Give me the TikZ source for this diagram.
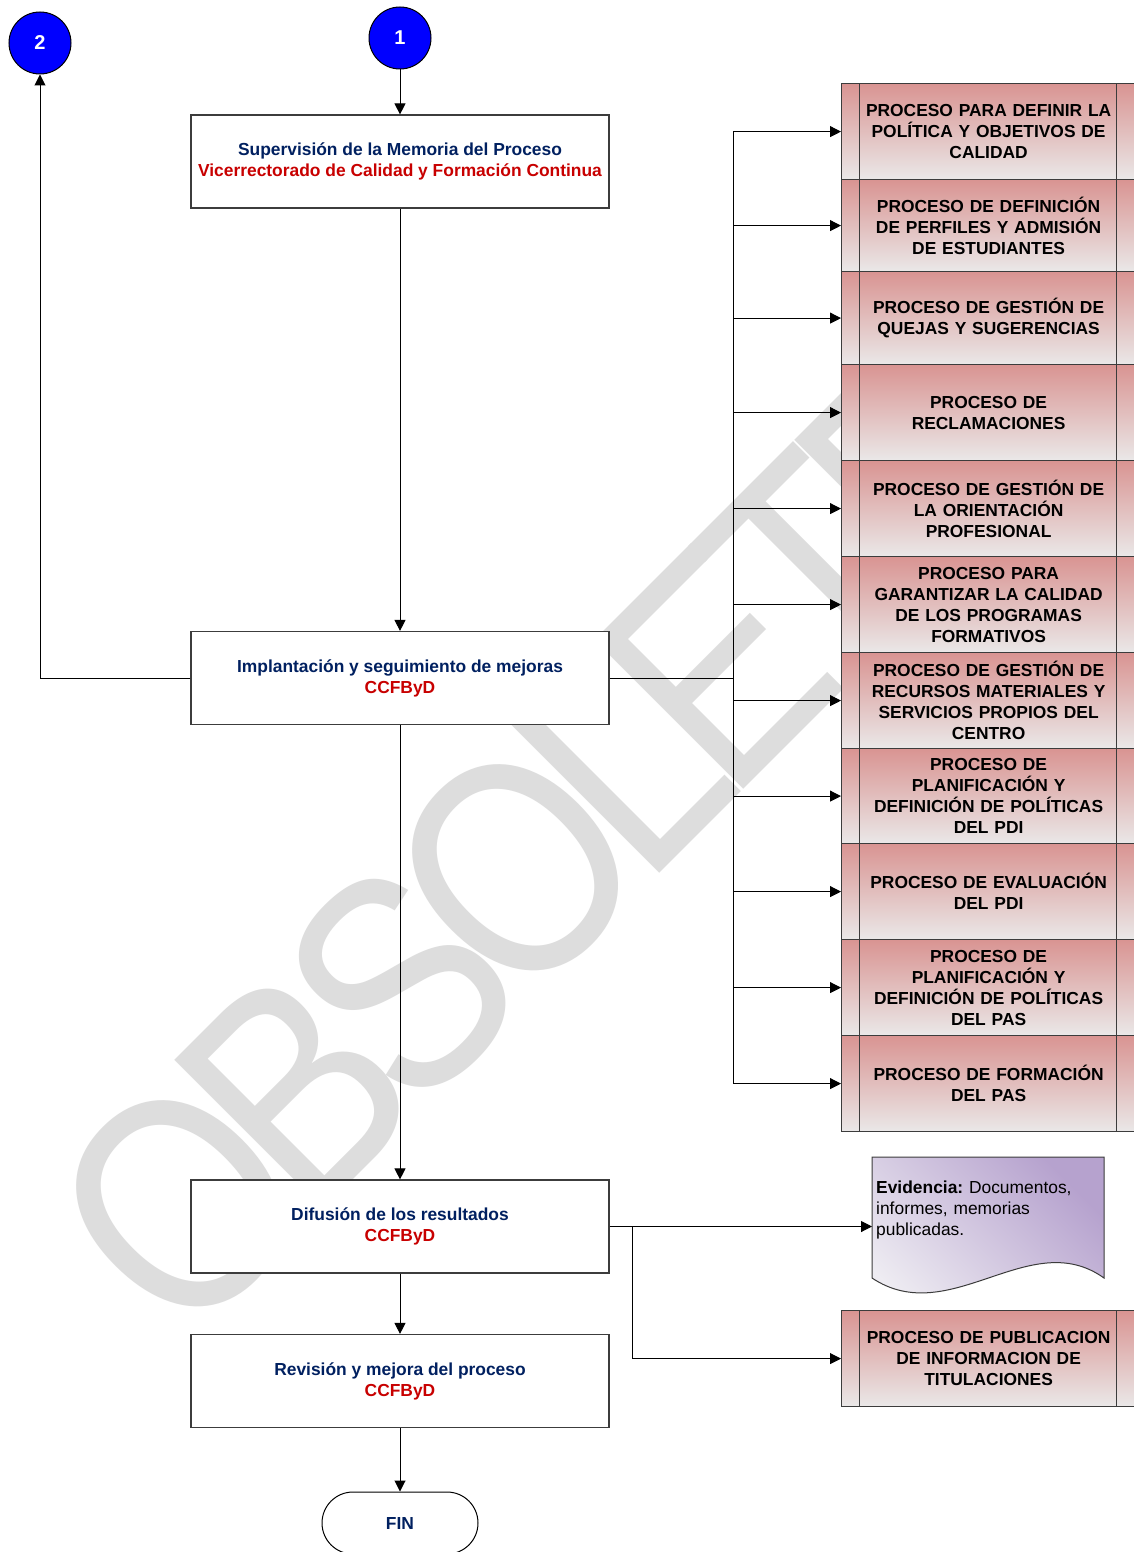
\documentclass[tikz,border=0pt]{standalone}
\usepackage{fontspec}
\setmainfont{Liberation Sans}
\usetikzlibrary{arrows.meta,calc}
\definecolor{navy}{RGB}{0,32,96}
\definecolor{dred}{RGB}{200,0,0}
\definecolor{wm}{RGB}{221,221,221}
\definecolor{ptop}{RGB}{217,148,146}
\definecolor{pbot}{RGB}{234,232,232}
\definecolor{bord}{RGB}{60,60,60}
\definecolor{evtop}{RGB}{182,162,206}
\definecolor{evbot}{RGB}{238,236,242}
\definecolor{cblue}{RGB}{0,0,255}
\frenchspacing
\begin{document}
\begin{tikzpicture}[x=1pt,y=-1pt,
  conn/.style={line width=1pt, black},
  arr/.style={conn, -{Triangle[length=11pt,width=11pt]}},
  txt/.style={font=\fontsize{17.4}{21}\selectfont\bfseries},
  mainbox/.style={txt, draw=bord, line width=1.2pt, fill=white, minimum width=418pt, minimum height=93pt, align=center},
  procbox/.style={txt, draw=bord, line width=1.2pt, top color=ptop, bottom color=pbot,
    minimum width=294pt, anchor=north west, align=center, text width=250pt,
    path picture={
      \draw[bord, line width=1pt] ([xshift=18pt]path picture bounding box.north west) -- ([xshift=18pt]path picture bounding box.south west);
      \draw[bord, line width=1pt] ([xshift=275pt]path picture bounding box.north west) -- ([xshift=275pt]path picture bounding box.south west);
    }},
  connector/.style={circle, draw=black, line width=1pt, fill=cblue, minimum size=62pt, inner sep=0pt, text=white, font=\fontsize{20}{20}\selectfont\bfseries},
  terminal/.style={txt, draw=black, line width=1pt, fill=white, rounded corners=31pt, minimum width=156pt, minimum height=62pt, text=navy},
  watermark/.style={text=wm, font=\fontsize{232}{232}\selectfont, inner sep=0pt}
]
\useasboundingbox (0,0) rectangle (1134,1552);
\clip (0,0) rectangle (1134,1552);
\fill[white] (0,0) rectangle (1134,1552);

% watermark
\node[watermark, rotate=45, anchor=center] (wmk) at (543,841) {\scalebox{1.13}[1.32]{\addfontfeature{LetterSpace=-10}OBSOLETE}};

% connectors (circles)
\node[connector] (c1) at (400,38) {1};
\node[connector] (c2) at (40,43) {2};

% main boxes
\node[mainbox] (b1) at (400,161.5) {\textcolor{navy}{Supervisión de la Memoria del Proceso}\\\textcolor{dred}{Vicerrectorado de Calidad y Formación Continua}};
\node[mainbox] (b2) at (400,678) {\textcolor{navy}{Implantación y seguimiento de mejoras}\\\textcolor{dred}{CCFByD}};
\node[mainbox] (b3) at (400,1226.5) {\textcolor{navy}{Difusión de los resultados}\\\textcolor{dred}{CCFByD}};
\node[mainbox] (b4) at (400,1381) {\textcolor{navy}{Revisión y mejora del proceso}\\\textcolor{dred}{CCFByD}};
\node[terminal] (fin) at (400,1523) {FIN};

% process boxes
\node[procbox, minimum height=96pt] (p1) at (841,83) {PROCESO PARA DEFINIR LA\\POLÍTICA Y OBJETIVOS DE\\CALIDAD};
\node[procbox, minimum height=92pt] (p2) at (841,179) {PROCESO DE DEFINICIÓN\\DE PERFILES Y ADMISIÓN\\DE ESTUDIANTES};
\node[procbox, minimum height=93pt] (p3) at (841,271) {PROCESO DE GESTIÓN DE\\QUEJAS Y SUGERENCIAS};
\node[procbox, minimum height=96pt] (p4) at (841,364) {PROCESO DE\\RECLAMACIONES};
\node[procbox, minimum height=96pt] (p5) at (841,460) {PROCESO DE GESTIÓN DE\\LA ORIENTACIÓN\\PROFESIONAL};
\node[procbox, minimum height=96pt] (p6) at (841,556) {PROCESO PARA\\GARANTIZAR LA CALIDAD\\DE LOS PROGRAMAS\\FORMATIVOS};
\node[procbox, minimum height=96pt] (p7) at (841,652) {PROCESO DE GESTIÓN DE\\RECURSOS MATERIALES Y\\SERVICIOS PROPIOS DEL\\CENTRO};
\node[procbox, minimum height=95pt] (p8) at (841,748) {PROCESO DE\\PLANIFICACIÓN Y\\DEFINICIÓN DE POLÍTICAS\\DEL PDI};
\node[procbox, minimum height=96pt] (p9) at (841,843) {PROCESO DE EVALUACIÓN\\DEL PDI};
\node[procbox, minimum height=96pt] (p10) at (841,939) {PROCESO DE\\PLANIFICACIÓN Y\\DEFINICIÓN DE POLÍTICAS\\DEL PAS};
\node[procbox, minimum height=96pt] (p11) at (841,1035) {PROCESO DE FORMACIÓN\\DEL PAS};
\node[procbox, minimum height=96pt] (p12) at (841,1310) {PROCESO DE PUBLICACION\\DE INFORMACION DE\\TITULACIONES};

% evidence document
\path[draw=bord, line width=1pt, top color=evtop, bottom color=evbot, shading angle=-45]
  (872,1157) -- (1104,1157) -- (1104,1278) .. controls (1030,1225) and (950,1330) .. (872,1278) -- cycle;
\node[anchor=north west, text width=224pt, align=left, inner sep=4pt, font=\fontsize{17.4}{21}\selectfont] (ev) at (872,1177)
  {\textbf{Evidencia:} Documentos,\\informes, memorias\\publicadas.};

% flow connectors
\draw[arr] (c1) -- (b1);
\draw[arr] (b1) -- (b2);
\draw[arr] (b2.west) -| (c2.south);
\draw[arr] (b2) -- (b3);
\draw[arr] (b3) -- (b4);
\draw[arr] (b4) -- (fin);

\coordinate (bus) at (733,678);
\draw[conn] (b2.east) -- (bus);
\foreach \i in {1,...,11} {\draw[arr] (bus) |- (p\i.west);}

\draw[arr] (b3.east) -- (b3.east -| ev.west);
\coordinate (br) at (632,1226.5);
\draw[arr] (br) |- (p12.west);
\end{tikzpicture}
\end{document}
